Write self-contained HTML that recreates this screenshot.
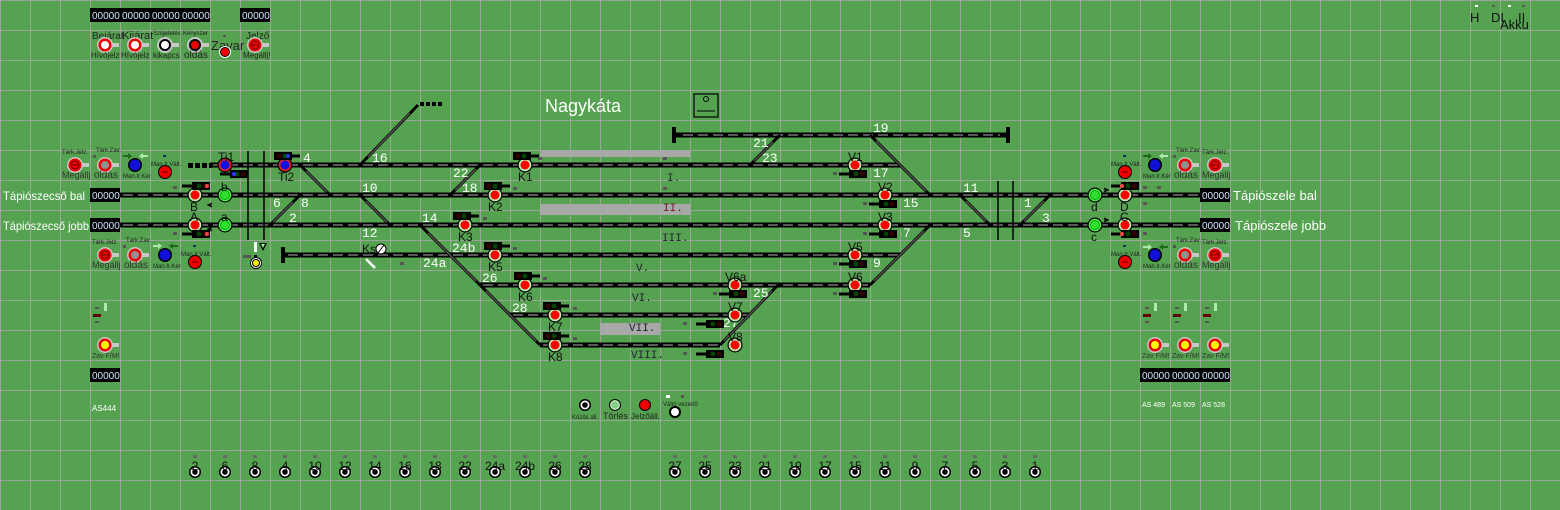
<!DOCTYPE html>
<html><head><meta charset="utf-8"><style>
body{margin:0;background:#55a350;}
svg{display:block;font-family:"Liberation Sans",sans-serif;}
.tb{stroke:#000;stroke-width:5}
.tg{stroke:#5a5a5a;stroke-width:2;stroke-dasharray:10 5}
.dg{stroke:#000;stroke-width:3}
.dg2{stroke:#555;stroke-width:1.5}
.w{fill:#fff;font-family:"Liberation Mono",monospace;font-size:13px}
.k{fill:#111;font-size:12px}
.s{fill:#222;font-size:6px}
.cb{fill:#000}
.ct{fill:#cfe6ff;font-size:10px;font-family:"Liberation Sans",sans-serif}
.rn{fill:#223;font-family:"Liberation Mono",monospace;font-size:11px}
</style></head><body>
<svg width="1560" height="510" viewBox="0 0 1560 510" xmlns="http://www.w3.org/2000/svg">
<defs>
<pattern id="g" width="30" height="30" patternUnits="userSpaceOnUse">
<path d="M0 0H30M0 0V30" stroke="#b0a8b0" stroke-width="1.5" fill="none"/>
</pattern>
<g id="sr"><circle r="7.5" fill="#000"/><circle r="6.3" fill="#b8e8b0"/><circle r="4.5" fill="#f00"/></g>
<g id="sg"><circle r="7.5" fill="#000"/><circle r="6.3" fill="#50f050"/><circle r="4.5" fill="#30e030" stroke="#0a0" stroke-width="1"/></g>
<g id="sb"><circle r="7.5" fill="#000"/><circle r="6.3" fill="#e02020"/><circle r="4.5" fill="#1010e0"/></g>
<g id="hr"><rect x="-10" y="-4" width="18" height="8" fill="#000"/><circle cx="-5" cy="0" r="2.5" fill="#300"/><circle cx="1" cy="0" r="2.5" fill="#040"/><line x1="8" y1="0" x2="16" y2="0" stroke="#000" stroke-width="3"/></g>
<g id="hl"><rect x="-8" y="-4" width="18" height="8" fill="#000"/><circle cx="5" cy="0" r="2.5" fill="#300"/><circle cx="-1" cy="0" r="2.5" fill="#040"/><line x1="-8" y1="0" x2="-18" y2="0" stroke="#000" stroke-width="3"/></g>
<g id="btn"><circle r="6" fill="#000"/><circle r="4.5" fill="#fff"/><circle r="2.8" fill="#000"/></g>
<g id="gw"><rect x="6" y="-2" width="8" height="4" fill="#c8c8c8"/><circle r="8" fill="#c8c8c8"/><circle r="6.5" fill="#e00"/><circle r="4" fill="#fff"/></g>
<g id="gg"><rect x="6" y="-2" width="8" height="4" fill="#c8c8c8"/><circle r="8" fill="#c8c8c8"/><circle r="6.5" fill="#e00"/><circle r="4" fill="#909090"/></g>
<g id="gm"><rect x="6" y="-2" width="8" height="4" fill="#c8c8c8"/><circle r="8" fill="#c8c8c8"/><circle r="6.5" fill="#e00"/><circle r="4" fill="#e00" stroke="#600"/><line x1="-3" y1="0" x2="3" y2="0" stroke="#600"/></g>
<g id="gy"><rect x="6" y="-2" width="8" height="4" fill="#c8c8c8"/><circle r="8" fill="#c8c8c8"/><circle r="6.5" fill="#e00"/><circle r="4" fill="#ff0"/></g>
<g id="rd"><circle r="7" fill="#000"/><circle r="6" fill="#e00"/><line x1="-3" y1="0" x2="3" y2="0" stroke="#600"/></g>
<g id="bl"><circle r="7" fill="#000"/><circle r="5.5" fill="#1010d8"/></g>
</defs>
<rect width="1560" height="510" fill="#55a350"/>
<rect width="1560" height="510" fill="url(#g)"/>

<!-- counters -->
<g>
<rect x="90" y="8" width="30" height="14" class="cb"/><text x="92" y="19" class="ct">00000</text>
<rect x="120" y="8" width="30" height="14" class="cb"/><text x="122" y="19" class="ct">00000</text>
<rect x="150" y="8" width="30" height="14" class="cb"/><text x="152" y="19" class="ct">00000</text>
<rect x="180" y="8" width="30" height="14" class="cb"/><text x="182" y="19" class="ct">00000</text>
<rect x="240" y="8" width="30" height="14" class="cb"/><text x="242" y="19" class="ct">00000</text>
<rect x="90" y="188" width="30" height="14" class="cb"/><text x="92" y="199" class="ct">00000</text>
<rect x="90" y="218" width="30" height="14" class="cb"/><text x="92" y="229" class="ct">00000</text>
<rect x="1200" y="188" width="30" height="14" class="cb"/><text x="1202" y="199" class="ct">00000</text>
<rect x="1200" y="218" width="30" height="14" class="cb"/><text x="1202" y="229" class="ct">00000</text>
<rect x="90" y="368" width="30" height="14" class="cb"/><text x="92" y="379" class="ct">00000</text>
<rect x="1140" y="368" width="30" height="14" class="cb"/><text x="1142" y="379" class="ct">00000</text>
<rect x="1170" y="368" width="30" height="14" class="cb"/><text x="1172" y="379" class="ct">00000</text>
<rect x="1200" y="368" width="30" height="14" class="cb"/><text x="1202" y="379" class="ct">00000</text>
</g>

<!-- top buttons -->
<text x="92" y="39" style="fill:#222;font-size:10px">Bejárat</text><use href="#gw" x="105" y="45"/><text x="91" y="58" style="fill:#222;font-size:8px">Hívójelz</text>
<text x="122" y="39" style="fill:#222;font-size:11px">Kijárat</text><use href="#gw" x="135" y="45"/><text x="121" y="58" style="fill:#222;font-size:8px">Hívójelz</text>
<text x="153" y="35" class="s">Szigetelés</text><circle cx="165" cy="45" r="8" fill="#c8c8c8"/><rect x="171" y="43" width="8" height="4" fill="#c8c8c8"/><circle cx="165" cy="45" r="6" fill="#000"/><circle cx="165" cy="45" r="4" fill="#fff"/><text x="153" y="58" style="fill:#222;font-size:8px">kikapcs</text>
<text x="183" y="35" class="s">Kényszer</text><circle cx="195" cy="45" r="8" fill="#c8c8c8"/><rect x="201" y="43" width="8" height="4" fill="#c8c8c8"/><circle cx="195" cy="45" r="6" fill="#000"/><circle cx="195" cy="45" r="4" fill="#e00"/><text x="184" y="58" style="fill:#222;font-size:10px">oldás</text>
<rect x="223" y="35" width="3" height="2" fill="#555"/><text x="211" y="50" style="fill:#222;font-size:13px">Zavar</text><circle cx="225" cy="52" r="6" fill="#fff"/><circle cx="225" cy="52" r="5" fill="#000"/><circle cx="225" cy="52" r="4" fill="#e00"/>
<text x="246" y="39" style="fill:#222;font-size:10px">Jelző</text><use href="#gm" x="255" y="45"/><text x="243" y="58" style="fill:#222;font-size:8px">Megállj!</text>

<!-- top right -->
<rect x="1475" y="5" width="3" height="2" fill="#fff"/><rect x="1492" y="5" width="3" height="2" fill="#555"/><rect x="1508" y="5" width="3" height="2" fill="#fff"/><rect x="1522" y="5" width="3" height="2" fill="#555"/>
<text x="1470" y="22" style="fill:#111;font-size:13px">H</text><text x="1491" y="22" style="fill:#111;font-size:13px">DI</text><text x="1518" y="22" style="fill:#111;font-size:13px">II</text><text x="1500" y="29" style="fill:#111;font-size:13px">Akku</text>

<!-- title -->
<text x="545" y="112" style="fill:#fff;font-size:18px">Nagykáta</text>
<rect x="694" y="94" width="24" height="23" fill="none" stroke="#000" stroke-width="1.2"/><circle cx="706" cy="99" r="2.5" fill="none" stroke="#000"/><line x1="697" y1="111" x2="715" y2="111" stroke="#000"/>

<!-- platforms -->
<rect x="540" y="150" width="150" height="7" fill="#a8a8a8"/>
<rect x="540" y="204" width="150" height="11" fill="#a8a8a8"/>
<rect x="600" y="323" width="60" height="12" fill="#a8a8a8"/>

<!-- tracks -->
<g class="tb">
<line x1="672" y1="135" x2="1008" y2="135"/>
<line x1="210" y1="165" x2="900" y2="165"/>
<line x1="120" y1="195" x2="1200" y2="195"/>
<line x1="120" y1="225" x2="1200" y2="225"/>
<line x1="285" y1="255" x2="900" y2="255"/>
<line x1="480" y1="285" x2="870" y2="285"/>
<line x1="510" y1="315" x2="750" y2="315"/>
<line x1="540" y1="345" x2="720" y2="345"/>
</g>
<g class="tg">
<line x1="683" y1="135" x2="1000" y2="135"/>
<line x1="213" y1="165" x2="898" y2="165"/>
<line x1="123" y1="195" x2="1198" y2="195"/>
<line x1="123" y1="225" x2="1198" y2="225"/>
<line x1="288" y1="255" x2="898" y2="255"/>
<line x1="483" y1="285" x2="868" y2="285"/>
<line x1="513" y1="315" x2="748" y2="315"/>
<line x1="543" y1="345" x2="718" y2="345"/>
</g>
<!-- bumpers -->
<rect x="672" y="127" width="4" height="16" fill="#000"/><rect x="1006" y="127" width="4" height="16" fill="#000"/>
<rect x="281" y="247" width="4" height="16" fill="#000"/>
<g fill="#000"><rect x="188" y="163" width="5" height="5"/><rect x="195" y="163" width="5" height="5"/><rect x="202" y="163" width="5" height="5"/><rect x="209" y="163" width="3" height="5"/>
<rect x="420" y="102" width="4" height="4"/><rect x="426" y="102" width="4" height="4"/><rect x="432" y="102" width="4" height="4"/><rect x="438" y="102" width="4" height="4"/></g>

<!-- diagonals -->
<g class="dg">
<line x1="300" y1="165" x2="330" y2="195"/>
<line x1="300" y1="195" x2="270" y2="225"/>
<line x1="360" y1="165" x2="418" y2="105"/>
<line x1="360" y1="195" x2="390" y2="225"/>
<line x1="450" y1="195" x2="480" y2="165"/>
<line x1="420" y1="225" x2="480" y2="285"/>
<line x1="480" y1="285" x2="540" y2="345"/>
<line x1="780" y1="135" x2="750" y2="165"/>
<line x1="870" y1="135" x2="930" y2="195"/>
<line x1="930" y1="225" x2="870" y2="285"/>
<line x1="778" y1="285" x2="720" y2="345"/>
<line x1="960" y1="195" x2="990" y2="225"/>
<line x1="1050" y1="195" x2="1020" y2="225"/>
</g>
<g class="dg2">
<line x1="306" y1="171" x2="327" y2="192"/><line x1="293" y1="202" x2="273" y2="222"/>
<line x1="368" y1="157" x2="410" y2="113"/><line x1="366" y1="201" x2="387" y2="222"/>
<line x1="455" y1="190" x2="476" y2="169"/><line x1="428" y1="233" x2="476" y2="281"/>
<line x1="486" y1="291" x2="536" y2="341"/><line x1="773" y1="142" x2="754" y2="161"/>
<line x1="876" y1="141" x2="926" y2="191"/><line x1="924" y1="231" x2="874" y2="281"/>
<line x1="772" y1="291" x2="724" y2="341"/><line x1="966" y1="201" x2="986" y2="221"/>
<line x1="1044" y1="201" x2="1024" y2="221"/>
</g>
<line x1="366" y1="259" x2="375" y2="268" stroke="#fff" stroke-width="2.5"/>
<!-- verticals -->
<g stroke="#000" stroke-width="1.5"><line x1="248" y1="151" x2="248" y2="240"/><line x1="264" y1="151" x2="264" y2="240"/><line x1="998" y1="181" x2="998" y2="240"/><line x1="1013" y1="181" x2="1013" y2="240"/></g>

<!-- track names -->
<g class="rn"><text x="667" y="181">I.</text><text x="663" y="211" fill="#622">II.</text><text x="662" y="241">III.</text><text x="636" y="271">V.</text><text x="632" y="301">VI.</text><text x="629" y="331">VII.</text><text x="631" y="358">VIII.</text></g>

<!-- white numbers -->
<g class="w">
<text x="303" y="162">4</text><text x="372" y="162">16</text><text x="362" y="192">10</text>
<text x="273" y="207">6</text><text x="301" y="207">8</text><text x="289" y="222">2</text>
<text x="362" y="237">12</text><text x="422" y="222">14</text><text x="453" y="177">22</text><text x="462" y="192">18</text>
<text x="452" y="252">24b</text><text x="423" y="267">24a</text><text x="482" y="282">26</text><text x="512" y="312">28</text>
<text x="753" y="147">21</text><text x="762" y="162">23</text><text x="873" y="132">19</text><text x="873" y="177">17</text>
<text x="903" y="207">15</text><text x="963" y="192">11</text><text x="963" y="237">5</text><text x="1024" y="207">1</text><text x="1042" y="222">3</text>
<text x="903" y="237">7</text><text x="873" y="267">9</text><text x="753" y="297">25</text><text x="723" y="327">27</text>
</g>

<!-- signals -->
<use href="#sb" x="225" y="165"/><use href="#sb" x="285" y="165"/>
<use href="#sr" x="195" y="195"/><use href="#sg" x="225" y="195"/><use href="#sr" x="195" y="225"/><use href="#sg" x="225" y="225"/>
<use href="#sr" x="525" y="165"/><use href="#sr" x="495" y="195"/><use href="#sr" x="465" y="225"/><use href="#sr" x="495" y="255"/>
<use href="#sr" x="525" y="285"/><use href="#sr" x="555" y="315"/><use href="#sr" x="555" y="345"/>
<use href="#sr" x="855" y="165"/><use href="#sr" x="885" y="195"/><use href="#sr" x="885" y="225"/><use href="#sr" x="855" y="255"/><use href="#sr" x="855" y="285"/>
<use href="#sr" x="735" y="285"/><use href="#sr" x="735" y="315"/><use href="#sr" x="735" y="345"/>
<use href="#sg" x="1095" y="195"/><use href="#sr" x="1125" y="195"/><use href="#sg" x="1095" y="225"/><use href="#sr" x="1125" y="225"/>
<!-- heads -->
<use href="#hr" x="284" y="156"/><use href="#hl" x="238" y="174"/>
<use href="#hl" x="200" y="186"/><use href="#hl" x="200" y="234"/>
<use href="#hr" x="523" y="156"/><use href="#hr" x="494" y="186"/><use href="#hr" x="463" y="216"/><use href="#hr" x="494" y="246"/>
<use href="#hr" x="524" y="276"/><use href="#hr" x="553" y="306"/><use href="#hr" x="553" y="336"/>
<use href="#hl" x="857" y="174"/><use href="#hl" x="887" y="204"/><use href="#hl" x="887" y="234"/><use href="#hl" x="857" y="264"/><use href="#hl" x="857" y="294"/>
<use href="#hl" x="737" y="294"/><use href="#hl" x="714" y="324"/><use href="#hl" x="714" y="354"/>
<use href="#hl" x="1129" y="186"/><use href="#hl" x="1129" y="234"/>
<circle cx="207" cy="186" r="2" fill="#f44"/><circle cx="207" cy="234" r="2" fill="#f44"/><circle cx="1122" cy="186" r="2" fill="#f44"/><circle cx="1122" cy="234" r="2" fill="#f44"/>
<circle cx="288" cy="156" r="2" fill="#33f"/><circle cx="234" cy="174" r="2" fill="#33f"/>
<!-- signal labels -->
<g class="k">
<text x="218" y="161">Ti1</text><text x="278" y="181">Ti2</text><text x="190" y="211">B</text><text x="221" y="191">b</text>
<text x="190" y="221">A</text><text x="221" y="221">a</text>
<text x="518" y="181">K1</text><text x="488" y="211">K2</text><text x="458" y="241">K3</text><text x="488" y="271">K5</text><text x="518" y="301">K6</text><text x="548" y="331">K7</text><text x="548" y="361">K8</text>
<text x="848" y="161">V1</text><text x="878" y="191">V2</text><text x="878" y="221">V3</text><text x="848" y="251">V5</text><text x="848" y="281">V6</text>
<text x="725" y="281">V6a</text><text x="728" y="311">V7</text><text x="728" y="341">V8</text>
<text x="1091" y="211">d</text><text x="1120" y="211">D</text><text x="1091" y="241">c</text><text x="1120" y="221">C</text>
<text x="362" y="253">Ks</text>
</g>
<circle cx="381" cy="249" r="5" fill="#fff" stroke="#000"/><line x1="378" y1="253" x2="384" y2="245" stroke="#000"/>
<!-- small gray dots -->
<g fill="#555"><rect x="538" y="157" width="4" height="3"/><rect x="513" y="187" width="4" height="3"/><rect x="483" y="217" width="4" height="3"/><rect x="513" y="247" width="4" height="3"/><rect x="543" y="277" width="4" height="3"/><rect x="573" y="307" width="4" height="3"/><rect x="573" y="337" width="4" height="3"/><rect x="663" y="157" width="4" height="3"/><rect x="663" y="187" width="4" height="3"/>
<rect x="833" y="172" width="4" height="3"/><rect x="863" y="202" width="4" height="3"/><rect x="863" y="232" width="4" height="3"/><rect x="833" y="262" width="4" height="3"/><rect x="833" y="292" width="4" height="3"/><rect x="713" y="292" width="4" height="3"/><rect x="683" y="322" width="4" height="3"/><rect x="683" y="352" width="4" height="3"/>
<rect x="173" y="186" width="4" height="3"/><rect x="173" y="232" width="4" height="3"/><rect x="1143" y="202" width="4" height="3"/><rect x="1143" y="232" width="4" height="3"/><rect x="1157" y="186" width="4" height="3"/><rect x="1143" y="186" width="4" height="3"/><rect x="400" y="262" width="4" height="3"/></g>
<g stroke="#000" stroke-width="1" fill="none"><path d="M212 203l-4 2 4 2M212 205h-5M212 227l-4 2 4 2M212 229h-5M1104 188l4 2-4 2M1104 190h5M1104 218l4 2-4 2M1104 220h5"/></g>

<!-- shunt yellow -->
<rect x="254" y="242" width="3" height="10" fill="#fff"/><path d="M259 243h8l-4 8z" fill="#000"/><path d="M261 244h4l-2 4z" fill="#8f8"/>
<rect x="243" y="255" width="8" height="3" fill="#555"/><rect x="254" y="255" width="3" height="3" fill="#003"/>
<circle cx="256" cy="263" r="6" fill="#000"/><circle cx="256" cy="263" r="5" fill="#fff"/><circle cx="256" cy="263" r="4" fill="#000"/><circle cx="256" cy="263" r="3" fill="#ee0"/>

<!-- left panels -->
<g>
<text x="62" y="154" class="s">Tárk.Jelz.</text><use href="#gm" x="75" y="165"/><text x="62" y="178" style="fill:#333;font-size:9px">Megállj</text>
<text x="96" y="152" class="s">Tárk.Zav.</text><rect x="93" y="155" width="3" height="3" fill="#555"/><use href="#gg" x="105" y="165"/><text x="94" y="178" style="fill:#333;font-size:10px">oldás</text>
<path d="M123 155h5v-2l4 3-4 3v-2h-5z" fill="#1a6a1a"/><path d="M148 155h-5v-2l-4 3 4 3v-2h5z" fill="#aeeaae"/><use href="#bl" x="135" y="165"/><text x="123" y="178" class="s">Man.Ir.Kér</text>
<rect x="163" y="155" width="3" height="2" fill="#135"/><text x="151" y="166" class="s">Man.Ir.Vált.</text><use href="#rd" x="165" y="172"/>

<text x="92" y="244" class="s">Tárk.Jelz.</text><use href="#gm" x="105" y="255"/><text x="92" y="268" style="fill:#333;font-size:9px">Megállj</text>
<text x="126" y="242" class="s">Tárk.Zav.</text><rect x="123" y="245" width="3" height="3" fill="#555"/><use href="#gg" x="135" y="255"/><text x="124" y="268" style="fill:#333;font-size:10px">oldás</text>
<path d="M153 245h5v-2l4 3-4 3v-2h-5z" fill="#aeeaae"/><path d="M178 245h-5v-2l-4 3 4 3v-2h5z" fill="#1a6a1a"/><use href="#bl" x="165" y="255"/><text x="153" y="268" class="s">Man.Ir.Kér</text>
<rect x="193" y="245" width="3" height="2" fill="#135"/><text x="181" y="256" class="s">Man.Ir.Vált.</text><use href="#rd" x="195" y="262"/>
</g>
<!-- right panels -->
<g>
<rect x="1123" y="155" width="3" height="2" fill="#135"/><text x="1111" y="166" class="s">Man.Ir.Vált.</text><use href="#rd" x="1125" y="172"/>
<path d="M1143 155h5v-2l4 3-4 3v-2h-5z" fill="#1a6a1a"/><path d="M1168 155h-5v-2l-4 3 4 3v-2h5z" fill="#aeeaae"/><use href="#bl" x="1155" y="165"/><text x="1143" y="178" class="s">Man.Ir.Kér</text>
<text x="1176" y="152" class="s">Tárk.Zav.</text><rect x="1173" y="155" width="3" height="3" fill="#555"/><use href="#gg" x="1185" y="165"/><text x="1174" y="178" style="fill:#333;font-size:10px">oldás</text>
<text x="1202" y="154" class="s">Tárk.Jelz.</text><use href="#gm" x="1215" y="165"/><text x="1202" y="178" style="fill:#333;font-size:9px">Megállj</text>
<rect x="1123" y="245" width="3" height="2" fill="#135"/><text x="1111" y="256" class="s">Man.Ir.Vált.</text><use href="#rd" x="1125" y="262"/>
<path d="M1143 246h5v-2l4 3-4 3v-2h-5z" fill="#aeeaae"/><path d="M1168 246h-5v-2l-4 3 4 3v-2h5z" fill="#1a6a1a"/><use href="#bl" x="1155" y="255"/><text x="1143" y="268" class="s">Man.Ir.Kér</text>
<text x="1176" y="242" class="s">Tárk.Zav.</text><rect x="1173" y="245" width="3" height="3" fill="#555"/><use href="#gg" x="1185" y="255"/><text x="1174" y="268" style="fill:#333;font-size:10px">oldás</text>
<text x="1202" y="244" class="s">Tárk.Jelz.</text><use href="#gm" x="1215" y="255"/><text x="1202" y="268" style="fill:#333;font-size:9px">Megállj</text>
</g>

<!-- direction labels -->
<text x="3" y="200" style="fill:#fff;font-size:12px" textLength="82" lengthAdjust="spacingAndGlyphs">Tápiószecső bal</text>
<text x="3" y="230" style="fill:#fff;font-size:12px" textLength="86" lengthAdjust="spacingAndGlyphs">Tápiószecső jobb</text>
<text x="1233" y="200" style="fill:#fff;font-size:13px">Tápiószele bal</text>
<text x="1235" y="230" style="fill:#fff;font-size:13px">Tápiószele jobb</text>

<!-- lever blocks & Zav -->
<g>
<rect x="95" y="307" width="4" height="2" fill="#555"/><rect x="104" y="303" width="3" height="8" fill="#aeeaae"/><rect x="93" y="314" width="8" height="3" fill="#600"/><rect x="95" y="321" width="4" height="2" fill="#555"/>
<rect x="1145" y="307" width="4" height="2" fill="#555"/><rect x="1154" y="303" width="3" height="8" fill="#aeeaae"/><rect x="1143" y="314" width="8" height="3" fill="#600"/><rect x="1145" y="321" width="4" height="2" fill="#555"/>
<rect x="1175" y="307" width="4" height="2" fill="#555"/><rect x="1184" y="303" width="3" height="8" fill="#aeeaae"/><rect x="1173" y="314" width="8" height="3" fill="#600"/><rect x="1175" y="321" width="4" height="2" fill="#555"/>
<rect x="1205" y="307" width="4" height="2" fill="#555"/><rect x="1214" y="303" width="3" height="8" fill="#aeeaae"/><rect x="1203" y="314" width="8" height="3" fill="#600"/><rect x="1205" y="321" width="4" height="2" fill="#555"/>
<use href="#gy" x="105" y="345"/><use href="#gy" x="1155" y="345"/><use href="#gy" x="1185" y="345"/><use href="#gy" x="1215" y="345"/>
<text x="92" y="358" style="fill:#333;font-size:7px">Zav F/M!</text><text x="1142" y="358" style="fill:#333;font-size:7px">Zav F/M!</text><text x="1172" y="358" style="fill:#333;font-size:7px">Zav F/M!</text><text x="1202" y="358" style="fill:#333;font-size:7px">Zav F/M!</text>
<text x="92" y="411" style="fill:#fff;font-size:8px">AS444</text><text x="1142" y="407" style="fill:#fff;font-size:7px">AS 489</text><text x="1172" y="407" style="fill:#fff;font-size:7px">AS 509</text><text x="1202" y="407" style="fill:#fff;font-size:7px">AS 528</text>
</g>

<!-- bottom center buttons -->
<use href="#btn" x="585" y="405"/><text x="572" y="419" class="s">Közös áll.</text>
<circle cx="615" cy="405" r="6" fill="#000"/><circle cx="615" cy="405" r="5" fill="#b8e8b0"/><circle cx="615" cy="405" r="3.5" fill="#8c8"/><text x="603" y="419" style="fill:#222;font-size:9px">Törlés</text>
<circle cx="645" cy="405" r="6" fill="#000"/><circle cx="645" cy="405" r="5" fill="#e00"/><text x="631" y="419" style="fill:#222;font-size:8px">Jelzőáll.</text>
<rect x="666" y="395" width="4" height="3" fill="#fff"/><rect x="681" y="395" width="3" height="3" fill="#555"/><text x="663" y="406" class="s">Váltó vezérlő</text>
<circle cx="675" cy="412" r="6" fill="#000"/><circle cx="675" cy="412" r="4" fill="#fff"/>

<!-- bottom buttons -->
<g>
<use href="#btn" x="195" y="472"/><use href="#btn" x="225" y="472"/><use href="#btn" x="255" y="472"/><use href="#btn" x="285" y="472"/><use href="#btn" x="315" y="472"/><use href="#btn" x="345" y="472"/><use href="#btn" x="375" y="472"/><use href="#btn" x="405" y="472"/><use href="#btn" x="435" y="472"/><use href="#btn" x="465" y="472"/><use href="#btn" x="495" y="472"/><use href="#btn" x="525" y="472"/><use href="#btn" x="555" y="472"/><use href="#btn" x="585" y="472"/>
<use href="#btn" x="675" y="472"/><use href="#btn" x="705" y="472"/><use href="#btn" x="735" y="472"/><use href="#btn" x="765" y="472"/><use href="#btn" x="795" y="472"/><use href="#btn" x="825" y="472"/><use href="#btn" x="855" y="472"/><use href="#btn" x="885" y="472"/><use href="#btn" x="915" y="472"/><use href="#btn" x="945" y="472"/><use href="#btn" x="975" y="472"/><use href="#btn" x="1005" y="472"/><use href="#btn" x="1035" y="472"/>
</g>
<g fill="#111" font-size="12" text-anchor="middle">
<text x="195" y="470">2</text><text x="225" y="470">6</text><text x="255" y="470">8</text><text x="285" y="470">4</text><text x="315" y="470">10</text><text x="345" y="470">12</text><text x="375" y="470">14</text><text x="405" y="470">16</text><text x="435" y="470">18</text><text x="465" y="470">22</text><text x="495" y="470">24a</text><text x="525" y="470">24b</text><text x="555" y="470">26</text><text x="585" y="470">28</text>
<text x="675" y="470">27</text><text x="705" y="470">25</text><text x="735" y="470">23</text><text x="765" y="470">21</text><text x="795" y="470">19</text><text x="825" y="470">17</text><text x="855" y="470">15</text><text x="885" y="470">11</text><text x="915" y="470">9</text><text x="945" y="470">7</text><text x="975" y="470">5</text><text x="1005" y="470">3</text><text x="1035" y="470">1</text>
</g>
<g fill="#666">
<rect x="193" y="455" width="4" height="3"/><rect x="223" y="455" width="4" height="3"/><rect x="253" y="455" width="4" height="3"/><rect x="283" y="455" width="4" height="3"/><rect x="313" y="455" width="4" height="3"/><rect x="343" y="455" width="4" height="3"/><rect x="373" y="455" width="4" height="3"/><rect x="403" y="455" width="4" height="3"/><rect x="433" y="455" width="4" height="3"/><rect x="463" y="455" width="4" height="3"/><rect x="493" y="455" width="4" height="3"/><rect x="523" y="455" width="4" height="3"/><rect x="553" y="455" width="4" height="3"/><rect x="583" y="455" width="4" height="3"/>
<rect x="673" y="455" width="4" height="3"/><rect x="703" y="455" width="4" height="3"/><rect x="733" y="455" width="4" height="3"/><rect x="763" y="455" width="4" height="3"/><rect x="793" y="455" width="4" height="3"/><rect x="823" y="455" width="4" height="3"/><rect x="853" y="455" width="4" height="3"/><rect x="883" y="455" width="4" height="3"/><rect x="913" y="455" width="4" height="3"/><rect x="943" y="455" width="4" height="3"/><rect x="973" y="455" width="4" height="3"/><rect x="1003" y="455" width="4" height="3"/><rect x="1033" y="455" width="4" height="3"/>
</g>
</svg>
</body></html>
